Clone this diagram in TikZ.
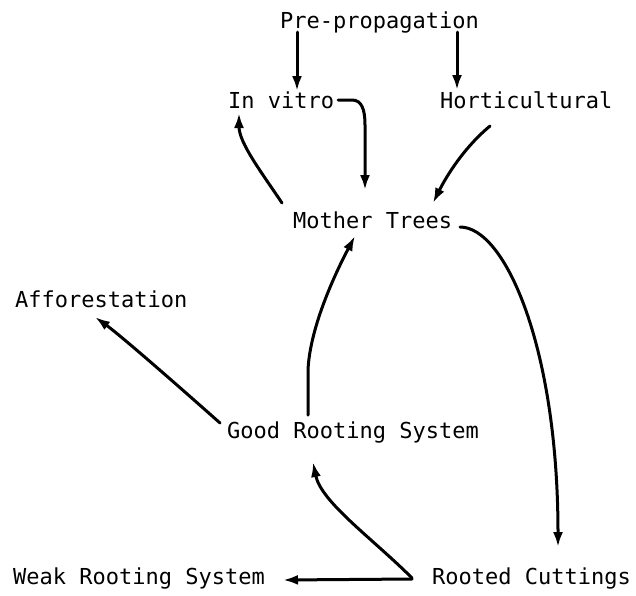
\documentclass[tikz,border=0pt]{standalone}
\usepackage{fontspec}
\newfontfamily\typewr{DejaVu Sans Mono}
\usetikzlibrary{calc,arrows.meta}
\tikzset{stage/.style={font=\typewr\fontsize{22}{26}\selectfont,inner sep=3pt,anchor=base west},
         flow/.style={draw,line width=3pt,line cap=round,-{Latex[length=15pt,width=10pt]}},
         x=1pt,y=-1pt
         }
\begin{document}
\begin{tikzpicture}
\useasboundingbox (0,0) rectangle (636,595);
\node[stage] (prop)   at (277,28)  {Pre-propagation};
\node[stage] (vitro)  at (225,108) {In vitro};
\node[stage] (hort)   at (437,108) {Horticultural};
\node[stage] (mother) at (290,228) {Mother Trees};
\node[stage] (affor)  at (12,307)  {Afforestation};
\node[stage] (good)   at (224,438) {Good Rooting System};
\node[stage] (weak)   at (10,584)  {Weak Rooting System};
\node[stage] (rooted) at (429,584) {Rooted Cuttings};

\draw[flow] ($(prop.base west)+(20,4)$) -- ($(vitro.base west)+(72,-17)$);
\draw[flow] ($(prop.base west)+(180,4)$) -- ($(hort.base west)+(20,-18)$);
\draw[flow] ($(vitro.base west)+(113,-8)$) -- ++(14,0)
    .. controls +(10,0) and +(0,-15) .. ++(13,25) -- ($(mother.base west)+(75,-38)$);
\draw[flow] ($(mother.base west)+(-8,-25)$)
    .. controls +(-20,-30) and +(0,30) .. ($(vitro.base west)+(14,5)$);
\draw[flow] ($(hort.base west)+(53,18)$)
    .. controls +(-30,25) and +(10,-20) .. ($(mother.base west)+(143,-25)$);
\draw[flow] ($(mother.base west)+(170,-1)$)
    .. controls +(45,0) and +(0,-200) .. ($(rooted.base west)+(129,-37)$);
\draw[flow] ($(good.base west)+(84,-23)$) -- ++(0,-45)
    .. controls +(2,-45) and +(-17,32) .. ($(mother.base west)+(65,8)$);
\draw[flow] ($(good.base west)+(-4,-15)$)
    .. controls +(-45,-40) and +(25,18) .. ($(affor.base west)+(83,10)$);
\draw[flow] ($(rooted.base west)+(-17,-6)$)
    .. controls +(-40,-40) and +(8,40) .. ($(good.base west)+(89,24)$);
\draw[flow] ($(rooted.base west)+(-17,-5)$) -- ($(weak.base west)+(273,-4)$);
\end{tikzpicture}
\end{document}
